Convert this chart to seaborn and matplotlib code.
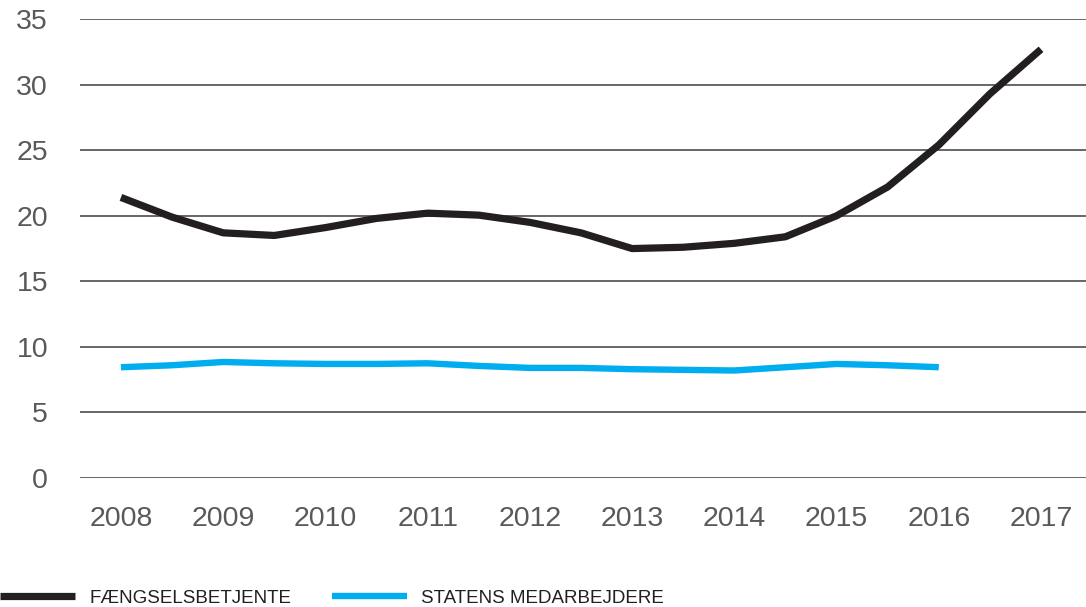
import matplotlib
matplotlib.use('Agg')
import matplotlib.pyplot as plt
import seaborn as sns
import pandas as pd

# values at half-year steps
years_black = [2008, 2008.5, 2009, 2009.5, 2010, 2010.5, 2011, 2011.5, 2012, 2012.5,
               2013, 2013.5, 2014, 2014.5, 2015, 2015.5, 2016, 2016.5, 2017]
faengsel = [21.4, 19.9, 18.7, 18.5, 19.1, 19.8, 20.2, 20.05, 19.5, 18.7,
            17.5, 17.6, 17.9, 18.4, 20.0, 22.2, 25.4, 29.3, 32.7]

years_blue = [2008, 2008.5, 2009, 2009.5, 2010, 2010.5, 2011, 2011.5, 2012,
              2012.5, 2013, 2013.5, 2014, 2014.5, 2015, 2015.5, 2016]
statens = [8.45, 8.6, 8.85, 8.75, 8.7, 8.7, 8.75, 8.55, 8.4,
           8.4, 8.3, 8.25, 8.2, 8.45, 8.7, 8.6, 8.45]

tick_years = list(range(2008, 2018))
y_ticks = [0, 5, 10, 15, 20, 25, 30, 35]
labels = ['FÆNGSELSBETJENTE', 'STATENS MEDARBEJDERE']
colors = ['#231f20', '#00aeef']

sns.set_style('white')
plt.rcParams['font.family'] = ['Liberation Sans', 'DejaVu Sans']

df_black = pd.DataFrame({'year': years_black, 'value': faengsel})
df_blue = pd.DataFrame({'year': years_blue, 'value': statens})

fig = plt.figure(figsize=(10.86, 6.07), dpi=100)
ax = fig.add_axes([0.0737, 0.2125, 0.9263, 0.756])

for y in y_ticks:
    ax.axhline(y, color='#4d4d4d', lw=1.2, zorder=0)

sns.lineplot(data=df_black, x='year', y='value', ax=ax, color=colors[0], lw=5.2,
             label=labels[0], legend=False, solid_capstyle='butt', zorder=3)
sns.lineplot(data=df_blue, x='year', y='value', ax=ax, color=colors[1], lw=4.6,
             label=labels[1], legend=False, solid_capstyle='butt', zorder=2)

ax.set_xlim(2007.6, 2017.44)
ax.set_ylim(0, 35)
ax.set_xticks(tick_years)
ax.set_yticks(y_ticks)
ax.tick_params(axis='both', length=0, labelsize=20.5, colors='#58595b')
ax.tick_params(axis='x', pad=20)
ax.tick_params(axis='y', pad=23)
ax.set_xlabel('')
ax.set_ylabel('')
for s in ax.spines.values():
    s.set_visible(False)

handles, lbls = ax.get_legend_handles_labels()
leg = fig.legend(handles, lbls, loc='lower left', bbox_to_anchor=(0.0, 0.0), ncol=2,
                 frameon=False, fontsize=13.5, handlelength=4.0, handletextpad=0.75,
                 columnspacing=2.2, borderpad=0, borderaxespad=0)
for t in leg.get_texts():
    t.set_color('#231f20')

fig.savefig('out.png', dpi=100)
